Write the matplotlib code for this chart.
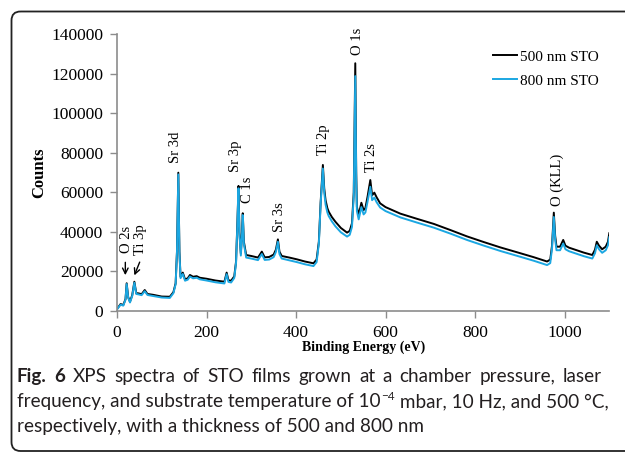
import matplotlib
matplotlib.use("Agg")
import matplotlib.pyplot as plt
from matplotlib.patches import FancyBboxPatch

# binding energy grid (eV)
energy = [0, 8, 14, 19, 21.6, 25, 29, 34, 38.8, 43, 48, 55, 62, 68, 80, 100, 118,
          126, 131, 134, 137, 139.5, 142, 147, 152, 158, 163, 170, 178, 185, 200,
          220, 240, 245, 249, 255, 262, 266, 269, 271.5, 273.5, 276.7, 279, 281,
          283.5, 288.6, 300, 315, 323.6, 330, 340, 350, 355, 359.5, 363, 368, 385,
          402, 420, 439, 446, 451, 455, 460, 463, 466, 470, 473, 480, 488, 500,
          514, 520, 525, 529, 532.4, 534.5, 536, 540, 546, 551, 555, 560, 566,
          570, 575, 580, 588, 600, 633, 670, 708, 745, 782, 820, 857, 895, 931,
          961, 968, 972, 976, 979, 982, 990, 997, 1002, 1010, 1043, 1062, 1068,
          1072, 1077, 1084, 1092, 1097, 1100]

counts_500 = [1000, 3500, 3000, 6000, 14000, 7000, 4700, 8000, 14800, 9000, 8900,
              8500, 10600, 8600, 8200, 7300, 7200, 9500, 14000, 30000, 69900, 30000,
              17300, 19400, 16000, 16500, 18200, 17300, 17600, 16800, 16300, 15400,
              14800, 19400, 15500, 15300, 17500, 25000, 45000, 63200, 40000, 29100,
              38000, 49400, 35000, 28300, 27800, 27000, 30000, 27100, 27300, 28500,
              31000, 36200, 30000, 27800, 27000, 26100, 25000, 24100, 26000, 35000,
              55000, 73800, 62000, 56000, 52000, 50200, 47500, 45100, 42000, 39600,
              40500, 44300, 60000, 125200, 70000, 52700, 48500, 54700, 51000, 52000,
              58000, 66200, 58500, 59800, 57500, 54400, 52500, 49200, 46600, 44000,
              40900, 37700, 34800, 32100, 29600, 27200, 25000, 26000, 33000, 49700,
              38000, 32500, 32500, 35900, 33000, 32000, 29500, 28300, 31000, 35000,
              33000, 31200, 32500, 35000, 39300]

counts_800 = [800, 3200, 2700, 5700, 13600, 6700, 4300, 7600, 14300, 8600, 8400,
              8000, 10000, 8100, 7600, 6800, 6600, 9000, 13500, 29500, 69000, 29500,
              16600, 18700, 15300, 15800, 17400, 16500, 16800, 16000, 15400, 14500,
              13900, 18600, 14700, 14400, 16700, 24300, 44000, 62000, 39000, 28000,
              37000, 48500, 34000, 27000, 26500, 25700, 28800, 25800, 26000, 27200,
              29800, 35000, 28800, 26500, 25600, 24700, 23600, 22700, 24700, 34000,
              54000, 72000, 60000, 53800, 49800, 48000, 45300, 42800, 39800, 37600,
              38500, 42500, 58000, 118700, 67000, 50500, 46300, 52500, 48800, 49800,
              55500, 62800, 56000, 57300, 55000, 52300, 50500, 47300, 44700, 42100,
              39100, 35900, 33000, 30300, 27800, 25400, 23200, 24200, 31500, 47500,
              36200, 30700, 30700, 34100, 31200, 30200, 27700, 26500, 29200, 33200,
              31200, 29400, 30700, 33200, 37300]

# peak labels: text, energy, counts at the foot of the rotated label
peak_names = ["Sr 3d", "Sr 3p", "C 1s", "Sr 3s", "Ti 2p", "O 1s", "Ti 2s", "O (KLL)",
              "O 2s", "Ti 3p"]
peak_x = [130, 264, 291, 362, 461, 537, 568, 984, 22, 53]
peak_y = [74800, 70200, 54600, 39900, 78800, 129400, 70200, 53100, 29300, 28300]

caption_line1 = ['Fig.', '6', 'XPS', 'spectra', 'of', 'STO', 'films', 'grown', 'at', 'a',
                 'chamber', 'pressure,', 'laser']
caption_line2 = ['frequency, and substrate temperature of 10', '\u22124',
                 ' mbar, 10 Hz, and 500 \u00b0C,']
caption_line3 = 'respectively, with a thickness of 500 and 800 nm'

plt.rcParams['font.family'] = 'Liberation Serif'

fig = plt.figure(figsize=(6.25, 4.53), dpi=100)

# rounded frame around figure + caption (right side runs off the page)
bg = fig.add_axes([0, 0, 1, 1], zorder=-1)
bg.set_xlim(0, 625)
bg.set_ylim(453, 0)
bg.axis('off')
bg.add_patch(FancyBboxPatch((11.5, 11.5), 900, 439.5,
                            boxstyle='round,pad=0,rounding_size=9',
                            fc='none', ec='#222222', lw=1.3))

ax = fig.add_axes([0.1872, 0.3135, 0.7877, 0.6115])
ax.patch.set_alpha(0)
ax.plot(energy, counts_500, color='black', lw=1.4, label='500 nm STO')
ax.plot(energy, counts_800, color='#1ba7e2', lw=1.4, label='800 nm STO')

ax.set_xlim(0, 1100)
ax.set_ylim(0, 140000)
ax.set_xticks([0, 200, 400, 600, 800, 1000])
ax.set_yticks(range(0, 140001, 20000))
ax.tick_params(labelsize=12.5, color='#8c8c8c', length=5, width=1, pad=5)
for s in ['top', 'right']:
    ax.spines[s].set_visible(False)
for s in ['left', 'bottom']:
    ax.spines[s].set_color('#8c8c8c')
    ax.spines[s].set_linewidth(1.2)

ax.set_xlabel('Binding Energy (eV)', fontsize=10, fontweight='bold', labelpad=0)
ax.set_ylabel('Counts', fontsize=12, fontweight='bold', labelpad=3)

for name, x, y in zip(peak_names, peak_x, peak_y):
    ax.text(x, y, name, rotation=90, ha='center', va='bottom', fontsize=10.5)

# arrows for the small low-energy peaks
ax.annotate('', xy=(18.6, 16700), xytext=(18.6, 26000),
            arrowprops=dict(arrowstyle='->', color='black', lw=1))
ax.annotate('', xy=(36.5, 16700), xytext=(53, 26000),
            arrowprops=dict(arrowstyle='->', color='black', lw=1))

ax.legend(loc='upper left', bbox_to_anchor=(493 / 625, 1 - 50 / 453),
          bbox_transform=fig.transFigure, frameon=False, fontsize=11,
          handlelength=1.6, handletextpad=0.2, borderpad=0, borderaxespad=0,
          labelspacing=0.68)

# caption: justified text, drawn word by word
W = fig.bbox.width
H = fig.bbox.height
cap_font = 'Lato'
left = 17


def put(x_px, base_px, s, size, **kw):
    t = fig.text(x_px / W, 1 - base_px / H, s, family=cap_font, fontsize=size,
                 color='#231f20', ha='left', va='baseline', **kw)
    fig.canvas.draw()
    return t.get_window_extent().width


def width(s, size, **kw):
    t = fig.text(0, 0, s, family=cap_font, fontsize=size, **kw)
    fig.canvas.draw()
    w = t.get_window_extent().width
    t.remove()
    return w


# size chosen so the second line ends where it does in the reference
w2 = (width(caption_line2[0], 14) + width(caption_line2[1], 14 * 0.62)
      + width(caption_line2[2], 14))
size = 14 * (608 - left) / w2

# line 1, spread to its right edge
bold_words = 2
ws = [width(w, size, fontweight='bold' if i < bold_words else 'normal')
      for i, w in enumerate(caption_line1)]
gap = (602 - left - sum(ws)) / (len(ws) - 1)
x = left
for i, w in enumerate(caption_line1):
    put(x, 382, w, size, fontweight='bold' if i < bold_words else 'normal')
    x += ws[i] + gap

# line 2 with superscript
x = left
x += put(x, 407, caption_line2[0], size) + 0.5
x += put(x, 400, caption_line2[1], size * 0.62)
put(x, 407, caption_line2[2], size)

# line 3
put(left, 432, caption_line3, size)

fig.savefig('out.png', dpi=100)
